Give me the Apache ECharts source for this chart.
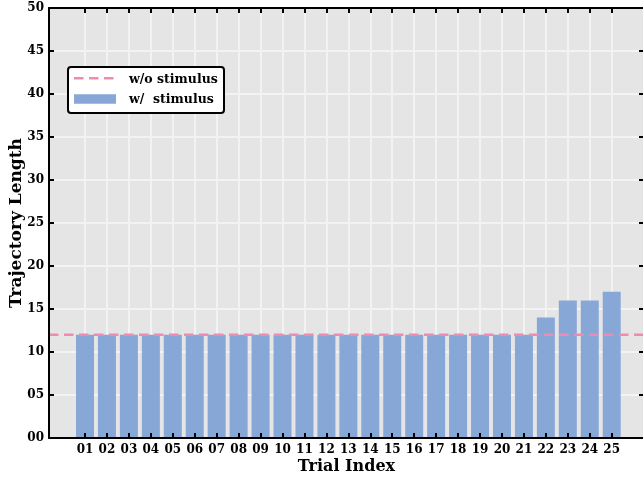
<!DOCTYPE html>
<html><head><meta charset="utf-8">
<script src="https://cdn.jsdelivr.net/npm/echarts@6/dist/echarts.min.js"></script>
<style>html,body{margin:0;padding:0;background:#fff}#c{width:643px;height:477px}</style>
</head><body><div id="c"></div>
<script>
const categories = ['01','02','03','04','05','06','07','08','09','10','11','12','13','14','15','16','17','18','19','20','21','22','23','24','25'];
const withStimulus = [12,12,12,12,12,12,12,12,12,12,12,12,12,12,12,12,12,12,12,12,12,14,16,16,17];
const withoutStimulus = 12;
const seriesNames = ['w/o stimulus', 'w/  stimulus'];
const yMin = 0, yMax = 50, yStep = 5;

const FONT = 'DejaVu Serif';
const PINK = '#ef8bb0', BLUE = '#87a7d7';
const txt = (size) => ({fontFamily: FONT, fontWeight: 'bold', fontSize: size, color: '#000'});
const frameLine = {show: true, onZero: false, lineStyle: {color: '#000', width: 2}};
const tick = {show: true, inside: true, length: 5, lineStyle: {color: '#000', width: 2}};
const gridColor = '#f3f3f3';
const hidden = {axisLine: {show: false}, axisTick: {show: false}, axisLabel: {show: false}, splitLine: {show: false}};

const chart = echarts.init(document.getElementById('c'), null, {renderer: 'canvas'});
const option = {
  animation: false,
  backgroundColor: '#fff',
  grid: [
    {left: 49, top: 8, width: 595, height: 430, show: true, backgroundColor: '#e5e5e5', borderWidth: 0,
     containLabel: false, outerBoundsMode: 'none'},
    {left: 74.03, top: 8, width: 548.65, height: 430, containLabel: false, outerBoundsMode: 'none'}
  ],
  xAxis: [
    Object.assign({gridIndex: 0, type: 'value', min: 0, max: 1, position: 'bottom', z: 5}, hidden,
     {axisLine: frameLine, name: 'Trial Index', nameLocation: 'middle', nameGap: 21, nameMoveOverlap: false, nameTextStyle: txt(16)}),
    Object.assign({gridIndex: 0, type: 'value', min: 0, max: 1, position: 'top', z: 5}, hidden, {axisLine: frameLine}),
    Object.assign({gridIndex: 1, type: 'category', data: categories, position: 'bottom', z: 5}, hidden, {
     axisTick: Object.assign({alignWithLabel: true, interval: 0}, tick),
     axisLabel: Object.assign({show: true, margin: 6, interval: 0}, txt(12))}),
    Object.assign({gridIndex: 1, type: 'category', data: categories, position: 'top', z: 5}, hidden, {
     axisTick: Object.assign({alignWithLabel: true, interval: 0}, tick)}),
    // vertical grid lines (behind bars)
    Object.assign({gridIndex: 1, type: 'category', data: categories, position: 'bottom', z: 0}, hidden, {
     splitLine: {show: true, alignWithLabel: true, interval: 0, lineStyle: {color: gridColor, width: 2}}})
  ],
  yAxis: [
    Object.assign({gridIndex: 0, type: 'value', min: yMin, max: yMax, interval: yStep, position: 'left', z: 5}, hidden, {
     axisLine: frameLine, axisTick: tick,
     axisLabel: Object.assign({show: true, margin: 5, formatter: v => String(v).padStart(2, '0')}, txt(12)),
     name: 'Trajectory Length', nameLocation: 'middle', nameGap: 24, nameMoveOverlap: false, nameTextStyle: txt(17)}),
    Object.assign({gridIndex: 0, type: 'value', min: yMin, max: yMax, interval: yStep, position: 'right', z: 5}, hidden, {
     axisLine: frameLine, axisTick: tick}),
    {gridIndex: 1, type: 'value', min: yMin, max: yMax, show: false},
    // horizontal grid lines (behind bars)
    Object.assign({gridIndex: 0, type: 'value', min: yMin, max: yMax, interval: yStep, position: 'left', z: 0}, hidden, {
     splitLine: {show: true, lineStyle: {color: gridColor, width: 2}}})
  ],
  series: [
    {name: seriesNames[1], type: 'bar', xAxisIndex: 2, yAxisIndex: 2, data: withStimulus,
     barWidth: 18, itemStyle: {color: BLUE}, z: 2},
    {name: seriesNames[0], type: 'line', xAxisIndex: 0, yAxisIndex: 0,
     data: [[0, withoutStimulus], [1, withoutStimulus]], symbol: 'none',
     lineStyle: {color: PINK, width: 2.5, type: [9.5, 5.5]}, z: 4}
  ],
  graphic: [{
    type: 'group', left: 67, top: 66, z: 100,
    children: [
      {type: 'rect', z: 100, shape: {x: 0, y: 0, width: 156, height: 46, r: 3},
       style: {fill: '#fff', stroke: '#000', lineWidth: 2}},
      {type: 'line', z: 101, shape: {x1: 6, y1: 11.3, x2: 47, y2: 11.3},
       style: {stroke: PINK, lineWidth: 2.5, lineDash: [9.5, 5.5]}},
      {type: 'rect', z: 101, shape: {x: 6, y: 27.3, width: 42, height: 9.5}, style: {fill: BLUE}},
      {type: 'text', z: 101, x: 61, y: 12.3, style: {text: seriesNames[0], verticalAlign: 'middle', fill: '#000',
        font: 'bold 12.5px "DejaVu Serif"'}},
      {type: 'text', z: 101, x: 61, y: 32.3, style: {text: seriesNames[1], verticalAlign: 'middle', fill: '#000',
        font: 'bold 12.5px "DejaVu Serif"'}}
    ]
  }]
};
chart.setOption(option);
</script>
</body></html>
